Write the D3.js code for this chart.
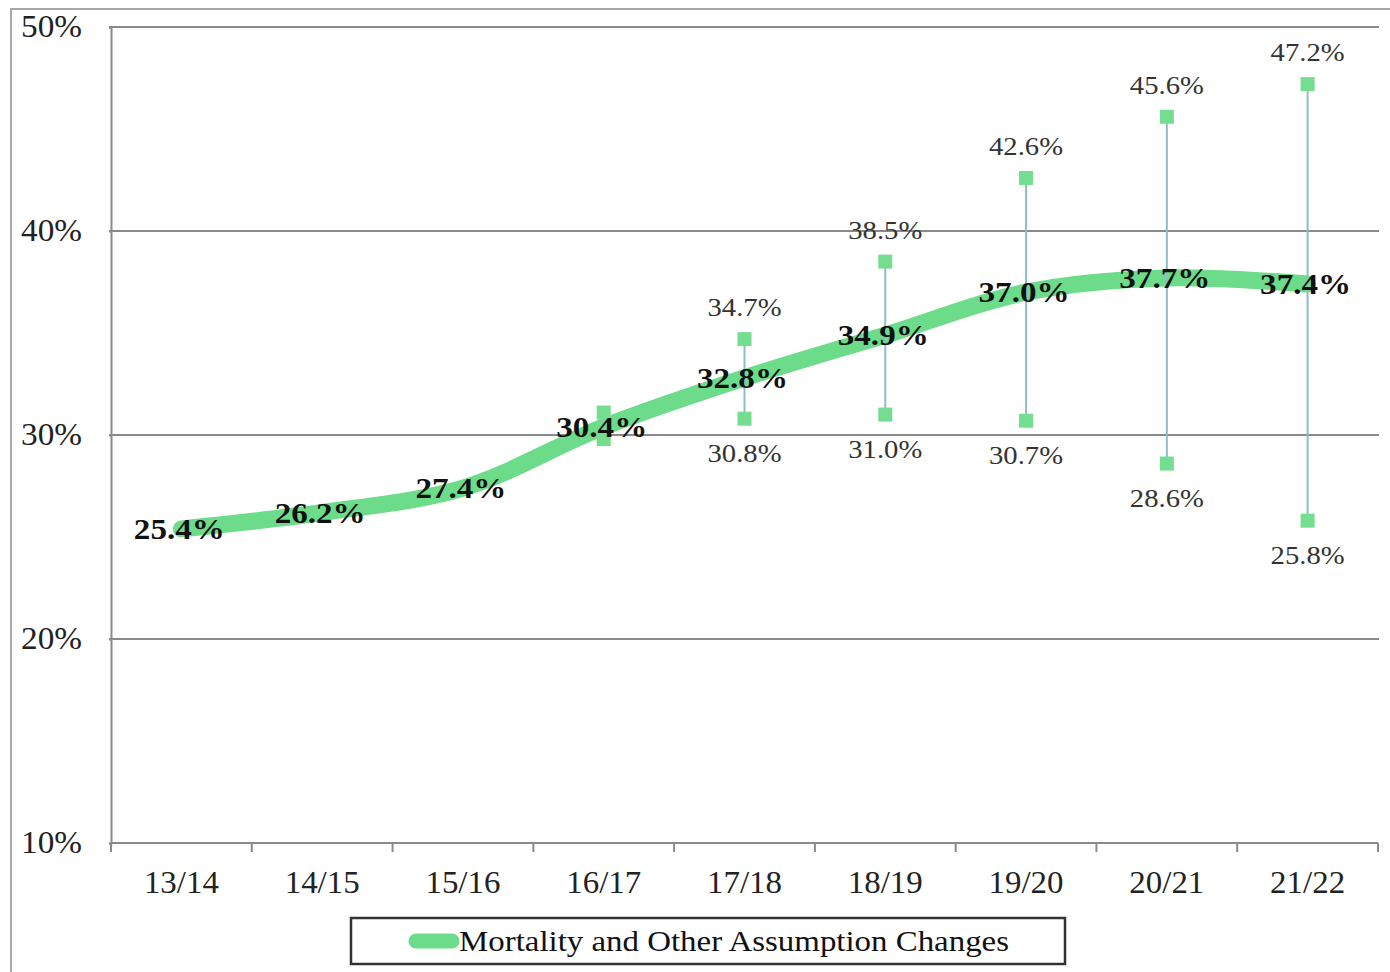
<!DOCTYPE html>
<html>
<head>
<meta charset="utf-8">
<script src="https://cdn.jsdelivr.net/npm/d3@7/dist/d3.min.js"></script>
<style>
  html, body { margin: 0; padding: 0; background: #fff; }
  svg { display: block; }
  svg text { font-family: "Times New Roman", "Liberation Serif", Times, serif !important; }
</style>
</head>
<body>
<svg id="chart" width="1390" height="972"></svg>
<script>
// Fiscal years on the x axis
const years = ["13/14", "14/15", "15/16", "16/17", "17/18", "18/19", "19/20", "20/21", "21/22"];
// Central projection (%)
const central = [25.4, 26.2, 27.4, 30.4, 32.8, 34.9, 37.0, 37.7, 37.4];
// Upper and lower bounds of the projection range (%)
const upper = [null, null, null, 31.1, 34.7, 38.5, 42.6, 45.6, 47.2];
const lower = [null, null, null, 29.8, 30.8, 31.0, 30.7, 28.6, 25.8];
// Range bounds are labelled from this year on
const firstLabelledYear = "17/18";
// Y axis ticks (%)
const yTicks = [10, 20, 30, 40, 50];
const seriesName = "Mortality and Other Assumption Changes";

const FONT = '"Times New Roman", "Liberation Serif", Times, serif';
const svg = d3.select("#chart");
const green = "#6ddc8a";
const markerGreen = "#74dd8f";
const rangeBlue = "#8dbccb";
const gridGrey = "#8a8a8a";

// outer frame
svg.append("path")
  .attr("d", "M11,972 V9 H1390")
  .attr("fill", "none").attr("stroke", "#a8a8a8").attr("stroke-width", 2);

const x = d3.scaleBand().domain(years).range([111, 1378]);
const y = d3.scaleLinear().domain([10, 50]).range([843, 27]);
const cx = d => x(d) + x.bandwidth() / 2;

// horizontal gridlines
svg.append("g").selectAll("line")
  .data(yTicks.filter(t => t > 10))
  .join("line")
  .attr("x1", 109).attr("x2", 1379)
  .attr("y1", d => y(d)).attr("y2", d => y(d))
  .attr("stroke", gridGrey).attr("stroke-width", 2);

// y axis
const yAxis = svg.append("g")
  .attr("transform", "translate(111,0)")
  .call(d3.axisLeft(y).tickValues(yTicks).tickSize(2).tickPadding(27).tickFormat(d => d + "%"));
yAxis.attr("font-family", FONT);
yAxis.select(".domain").attr("stroke", gridGrey).attr("stroke-width", 2);
yAxis.selectAll(".tick line").attr("stroke", gridGrey).attr("stroke-width", 2);
yAxis.selectAll(".tick text")
  .attr("font-size", 31).attr("fill", "#222")
  .attr("textLength", 61).attr("lengthAdjust", "spacingAndGlyphs");

// x axis with ticks on band edges
const xAxis = svg.append("g")
  .attr("transform", "translate(0,843)")
  .call(d3.axisBottom(x).tickSize(0).tickPadding(28));
xAxis.attr("font-family", FONT);
xAxis.select(".domain").remove();
xAxis.selectAll(".tick text")
  .attr("font-size", 31).attr("fill", "#222")
  .attr("textLength", 75).attr("lengthAdjust", "spacingAndGlyphs");
svg.append("line")
  .attr("x1", 111).attr("x2", 1378).attr("y1", 843).attr("y2", 843)
  .attr("stroke", gridGrey).attr("stroke-width", 2);
const edges = years.map(d => x(d)).concat([x(years[years.length - 1]) + x.bandwidth()]);
svg.append("g").selectAll("line")
  .data(edges)
  .join("line")
  .attr("x1", d => d).attr("x2", d => d)
  .attr("y1", 843).attr("y2", 852)
  .attr("stroke", gridGrey).attr("stroke-width", 2);

// central projection line
const line = d3.line()
  .x((d, i) => cx(years[i]))
  .y(d => y(d))
  .curve(d3.curveCatmullRom.alpha(0.5));
svg.append("path")
  .datum(central)
  .attr("d", line)
  .attr("fill", "none")
  .attr("stroke", green)
  .attr("stroke-width", 17)
  .attr("stroke-linecap", "round");

// projection ranges
const ranges = years.map((yr, i) => ({ yr, hi: upper[i], lo: lower[i], i }))
  .filter(d => d.hi != null && d.lo != null);
const rg = svg.append("g").attr("font-family", FONT);
rg.selectAll("line")
  .data(ranges)
  .join("line")
  .attr("x1", d => cx(d.yr)).attr("x2", d => cx(d.yr))
  .attr("y1", d => y(d.hi)).attr("y2", d => y(d.lo))
  .attr("stroke", rangeBlue).attr("stroke-width", 2);
const ms = 14;
const markers = ranges.flatMap(d => [{ yr: d.yr, v: d.hi }, { yr: d.yr, v: d.lo }]);
rg.selectAll("rect")
  .data(markers)
  .join("rect")
  .attr("x", d => cx(d.yr) - ms / 2)
  .attr("y", d => y(d.v) - ms / 2)
  .attr("width", ms).attr("height", ms)
  .attr("fill", markerGreen);

const labelled = ranges.filter(d => years.indexOf(d.yr) >= years.indexOf(firstLabelledYear));
const fmt = v => v.toFixed(1) + "%";
rg.selectAll("text.hi")
  .data(labelled)
  .join("text")
  .attr("class", "hi")
  .attr("x", d => cx(d.yr)).attr("y", d => y(d.hi) - 23)
  .attr("text-anchor", "middle")
  .attr("font-size", 26).attr("fill", "#333")
  .attr("textLength", 74).attr("lengthAdjust", "spacingAndGlyphs")
  .text(d => fmt(d.hi));
rg.selectAll("text.lo")
  .data(labelled)
  .join("text")
  .attr("class", "lo")
  .attr("x", d => cx(d.yr)).attr("y", d => y(d.lo) + 43)
  .attr("text-anchor", "middle")
  .attr("font-size", 26).attr("fill", "#333")
  .attr("textLength", 74).attr("lengthAdjust", "spacingAndGlyphs")
  .text(d => fmt(d.lo));

// central value labels
svg.append("g").attr("font-family", FONT).selectAll("text")
  .data(central)
  .join("text")
  .attr("x", (d, i) => cx(years[i]) - 2)
  .attr("y", d => y(d) + 10)
  .attr("text-anchor", "middle")
  .attr("font-size", 29).attr("font-weight", "bold").attr("fill", "#111")
  .attr("textLength", 91).attr("lengthAdjust", "spacingAndGlyphs")
  .text(d => fmt(d));

// legend
const lg = svg.append("g").attr("font-family", FONT);
lg.append("rect")
  .attr("x", 351).attr("y", 918).attr("width", 714).attr("height", 46)
  .attr("fill", "#fff").attr("stroke", "#333").attr("stroke-width", 2.5);
lg.append("line")
  .attr("x1", 416).attr("x2", 452).attr("y1", 941).attr("y2", 941)
  .attr("stroke", green).attr("stroke-width", 15).attr("stroke-linecap", "round");
lg.append("text")
  .attr("x", 459).attr("y", 951)
  .attr("font-size", 30).attr("fill", "#111")
  .attr("textLength", 550).attr("lengthAdjust", "spacingAndGlyphs")
  .text(seriesName);
</script>
</body>
</html>
